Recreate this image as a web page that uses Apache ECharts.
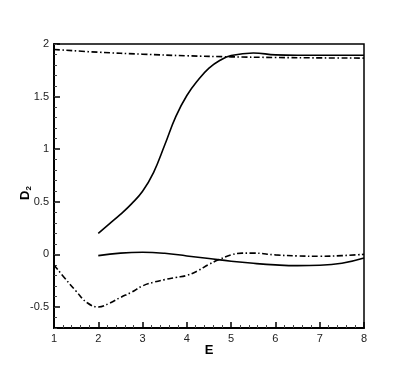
<!DOCTYPE html>
<html>
<head>
<meta charset="utf-8">
<script src="https://cdn.jsdelivr.net/npm/echarts@6/dist/echarts.min.js"></script>
<style>
  html, body { margin: 0; padding: 0; background: #fff; }
  #chart { width: 415px; height: 370px; }
</style>
</head>
<body>
<div id="chart"></div>
<script>
// upper solid curve
var solidHighE = [2, 2.25, 2.5, 2.75, 3, 3.25, 3.5, 3.75, 4, 4.25, 4.5, 4.75, 5, 5.5, 6, 6.5, 7, 7.5, 8]
var solidHighD = [0.2, 0.29, 0.38, 0.48, 0.6, 0.78, 1.04, 1.31, 1.51, 1.655, 1.77, 1.845, 1.89, 1.915, 1.897, 1.893, 1.893, 1.893, 1.893]
// upper dash-dot curve
var dashHighE = [1, 2, 3, 4, 5, 6, 7, 8]
var dashHighD = [1.948, 1.922, 1.903, 1.888, 1.878, 1.872, 1.868, 1.866]
// lower solid curve
var solidLowE = [2, 2.5, 3, 3.5, 4, 4.5, 5, 5.5, 6, 6.5, 7, 7.5, 8]
var solidLowD = [-0.012, 0.012, 0.02, 0.01, -0.015, -0.04, -0.065, -0.085, -0.1, -0.107, -0.104, -0.085, -0.035]
// lower dash-dot curve
var dashLowE = [1, 1.25, 1.5, 1.75, 2, 2.25, 2.5, 2.75, 3, 3.25, 3.5, 3.75, 4, 4.25, 4.5, 4.75, 5, 5.25, 5.5, 6, 6.5, 7, 7.5, 8]
var dashLowD = [-0.1, -0.23, -0.35, -0.46, -0.5, -0.465, -0.41, -0.36, -0.3, -0.265, -0.24, -0.22, -0.2, -0.155, -0.095, -0.045, -0.005, 0.012, 0.012, -0.005, -0.015, -0.018, -0.012, 0]

// tick labels
var yMajor = [-0.5, 0, 0.5, 1, 1.5, 2]
var yMinor = [-0.7, -0.6, -0.5, -0.4, -0.3, -0.2, -0.1, 0, 0.1, 0.2, 0.3, 0.4, 0.5, 0.6, 0.7, 0.8, 0.9, 1,
  1.1, 1.2, 1.3, 1.4, 1.5, 1.6, 1.7, 1.8, 1.9, 2]

function pairs (xs, ys) {
  return xs.map(function (x, i) { return [x, ys[i]] })
}

var dashDot = [6, 2.5, 1.5, 2.5]

function line (xs, ys, dashed) {
  return {
    type: 'line',
    data: pairs(xs, ys),
    smooth: 0.45,
    showSymbol: false,
    silent: true,
    lineStyle: {
      color: '#000',
      width: 1.6,
      type: dashed ? dashDot : 'solid'
    }
  }
}

var chart = echarts.init(document.getElementById('chart'))
chart.setOption({
  animation: false,
  backgroundColor: '#fff',
  grid: {
    left: 54, right: 51, top: 44, bottom: 42,
    show: true,
    borderColor: '#000',
    borderWidth: 1.5
  },
  xAxis: {
    type: 'value',
    min: 1,
    max: 8,
    interval: 1,
    name: 'E',
    nameLocation: 'middle',
    nameGap: 16,
    nameMoveOverlap: false,
    nameTextStyle: { fontFamily: 'Liberation Sans', fontWeight: 'bold', fontSize: 13, color: '#000' },
    axisLine: { onZero: false, lineStyle: { color: '#000', width: 2 } },
    axisTick: { inside: true, length: 6, lineStyle: { color: '#000', width: 1.5 } },
    minorTick: { show: true, splitNumber: 5, length: 3, lineStyle: { color: '#444', width: 1 } },
    axisLabel: { fontFamily: 'Liberation Sans', fontSize: 11, color: '#222', margin: 5 },
    splitLine: { show: false }
  },
  yAxis: [{
    type: 'value',
    min: -0.7,
    max: 2,
    name: '{d|D}{s|2}',
    nameLocation: 'middle',
    nameGap: 21,
    nameMoveOverlap: false,
    nameRotate: 90,
    nameTextStyle: {
      padding: [0, 14, 0, 0],
      rich: {
        d: { fontFamily: 'Liberation Sans', fontWeight: 'bold', fontSize: 13, color: '#000' },
        s: { fontFamily: 'Liberation Sans', fontWeight: 'bold', fontSize: 8, color: '#000', padding: [8, 0, 0, 0] }
      }
    },
    axisLine: { show: true, onZero: false, lineStyle: { color: '#000', width: 2 } },
    axisTick: { show: true, inside: true, length: 6, customValues: yMajor, lineStyle: { color: '#000', width: 1.5 } },
    axisLabel: { customValues: yMajor, fontFamily: 'Liberation Sans', fontSize: 11, color: '#222', margin: 5 },
    splitLine: { show: false }
  }, {
    type: 'value',
    position: 'left',
    min: -0.7,
    max: 2,
    axisLine: { show: false, onZero: false },
    axisTick: { show: true, inside: true, length: 3, customValues: yMinor, lineStyle: { color: '#444', width: 1 } },
    axisLabel: { show: false },
    splitLine: { show: false }
  }],
  series: [
    line(solidHighE, solidHighD, false),
    line(dashHighE, dashHighD, true),
    line(solidLowE, solidLowD, false),
    line(dashLowE, dashLowD, true)
  ]
})
</script>
</body>
</html>
